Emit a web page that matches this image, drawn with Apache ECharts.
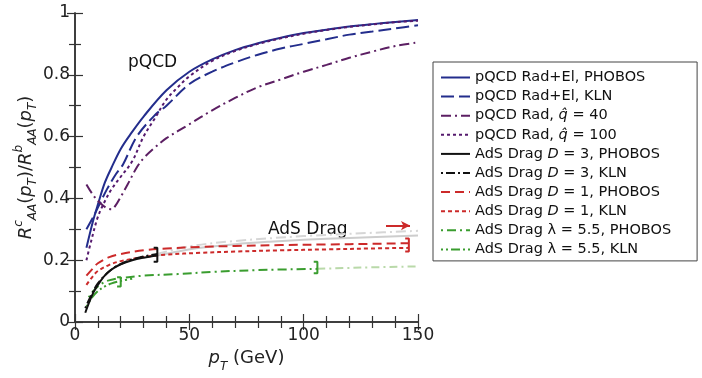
<!DOCTYPE html>
<html>
<head>
<meta charset="UTF-8">
<title>RcAA / RbAA</title>
<script src="https://cdn.jsdelivr.net/npm/echarts@6.0.0/dist/echarts.min.js"></script>
<style>
html, body { margin:0; padding:0; background:#fff; }
#main { width:702px; height:378px; }
</style>
</head>
<body>
<div id="main"></div>
<script>
// pQCD curves
var radElPhobosX = [5, 8, 10, 13, 16, 20, 24, 30, 40, 50, 60, 70, 80, 90, 100, 110, 120, 130, 140, 150];
var radElPhobosY = [0.24, 0.33, 0.38, 0.45, 0.50, 0.56, 0.605, 0.665, 0.75, 0.81, 0.85, 0.88, 0.902, 0.92, 0.935, 0.946, 0.956, 0.964, 0.971, 0.977];
var radElKlnX = [5, 8, 10, 14, 18, 21, 27, 35, 40, 50, 60, 70, 80, 90, 100, 110, 120, 130, 140, 150];
var radElKlnY = [0.30, 0.34, 0.37, 0.43, 0.48, 0.51, 0.60, 0.67, 0.70, 0.77, 0.81, 0.84, 0.865, 0.885, 0.90, 0.915, 0.93, 0.94, 0.95, 0.96];
var rad40X = [5, 8, 11, 14, 16, 18, 20, 23, 27, 30, 35, 40, 50, 60, 70, 80, 90, 100, 110, 120, 130, 140, 150];
var rad40Y = [0.445, 0.41, 0.385, 0.368, 0.365, 0.38, 0.405, 0.445, 0.50, 0.53, 0.565, 0.595, 0.64, 0.685, 0.725, 0.76, 0.785, 0.81, 0.832, 0.855, 0.875, 0.893, 0.905];
var rad100X = [5, 7, 10, 13, 16, 20, 25, 30, 35, 40, 45, 50, 60, 70, 80, 90, 100, 110, 120, 130, 140, 150];
var rad100Y = [0.20, 0.26, 0.34, 0.39, 0.43, 0.47, 0.52, 0.60, 0.66, 0.72, 0.76, 0.795, 0.845, 0.877, 0.90, 0.918, 0.933, 0.945, 0.955, 0.963, 0.97, 0.975];

// AdS drag curves
var d3PhobosX = [4.5, 6, 8, 10, 13, 16, 20, 25, 30, 36];
var d3PhobosY = [0.03, 0.06, 0.095, 0.12, 0.15, 0.17, 0.187, 0.20, 0.208, 0.215];
var d3PhobosOutX = [36, 45, 55, 70, 85, 100, 120, 150];
var d3PhobosOutY = [0.215, 0.228, 0.24, 0.252, 0.26, 0.266, 0.272, 0.28];
var d3KlnX = [4.5, 6, 8, 10, 14, 18, 24, 30, 36];
var d3KlnY = [0.045, 0.07, 0.10, 0.125, 0.158, 0.18, 0.20, 0.212, 0.22];
var d3KlnOutX = [36, 50, 70, 100, 125, 150];
var d3KlnOutY = [0.22, 0.245, 0.262, 0.278, 0.287, 0.295];
var d1PhobosX = [5, 8, 10, 15, 20, 30, 40, 55, 70, 90, 110, 130, 146];
var d1PhobosY = [0.15, 0.175, 0.19, 0.21, 0.22, 0.232, 0.238, 0.243, 0.246, 0.249, 0.251, 0.253, 0.255];
var d1KlnX = [5, 8, 10, 15, 20, 30, 40, 55, 70, 90, 110, 130, 146];
var d1KlnY = [0.12, 0.15, 0.165, 0.185, 0.197, 0.21, 0.218, 0.224, 0.228, 0.232, 0.235, 0.238, 0.24];
var lamPhobosX = [6, 8, 10, 13, 16, 20, 30, 45, 60, 80, 106];
var lamPhobosY = [0.08, 0.10, 0.115, 0.13, 0.137, 0.142, 0.15, 0.155, 0.162, 0.168, 0.172];
var lamPhobosOutX = [106, 125, 150];
var lamPhobosOutY = [0.172, 0.176, 0.18];
var lamKlnX = [5, 7, 10, 13, 16, 20, 25];
var lamKlnY = [0.05, 0.075, 0.10, 0.115, 0.125, 0.133, 0.14];

// range brackets: [x, yLow, yHigh]
var bracketD3 = [36, 0.195, 0.24];
var bracketD1 = [146, 0.228, 0.27];
var bracketLam = [106, 0.158, 0.195];
var bracketLamKln = [20, 0.115, 0.145];
var arrowD1 = [[136, 0.312], [146.5, 0.312]];

var legendNames = [
	'pQCD Rad+El, PHOBOS',
	'pQCD Rad+El, KLN',
	'pQCD Rad, q40',
	'pQCD Rad, q100',
	'AdS Drag D3, PHOBOS',
	'AdS Drag D3, KLN',
	'AdS Drag D1, PHOBOS',
	'AdS Drag D1, KLN',
	'AdS Drag l, PHOBOS',
	'AdS Drag l, KLN'
];
var legendText = {
	'pQCD Rad+El, PHOBOS': 'pQCD Rad+El, PHOBOS',
	'pQCD Rad+El, KLN': 'pQCD Rad+El, KLN',
	'pQCD Rad, q40': 'pQCD Rad, {i|q\u0302} = 40',
	'pQCD Rad, q100': 'pQCD Rad, {i|q\u0302} = 100',
	'AdS Drag D3, PHOBOS': 'AdS Drag {i|D} = 3, PHOBOS',
	'AdS Drag D3, KLN': 'AdS Drag {i|D} = 3, KLN',
	'AdS Drag D1, PHOBOS': 'AdS Drag {i|D} = 1, PHOBOS',
	'AdS Drag D1, KLN': 'AdS Drag {i|D} = 1, KLN',
	'AdS Drag l, PHOBOS': 'AdS Drag \u03bb = 5.5, PHOBOS',
	'AdS Drag l, KLN': 'AdS Drag \u03bb = 5.5, KLN'
};

var FONT = 'DejaVu Sans';
var navy = '#232d8c', purple = '#5c1f63', purple2 = '#551a6e';
var red = '#cc2a2a', green = '#3a9d2f', grey = '#cdcdcd', lightGreen = '#b9d9a9';

function pairs(xs, ys){
	var out = [];
	for(var i=0;i<xs.length;i++){ out.push([xs[i], ys[i]]); }
	return out;
}
function curve(name, xs, ys, color, dash, z){
	return {
		name: name, type: 'line', data: pairs(xs, ys),
		smooth: 0.35, symbol: 'none', showSymbol: false,
		lineStyle: { color: color, width: 2, type: dash },
		itemStyle: { color: color },
		z: z || 2
	};
}
function bracket(b, color){
	var w = 1.6;
	return {
		type: 'line', symbol: 'none', silent: true,
		data: [[b[0]-w, b[1]], [b[0], b[1]], [b[0], b[2]], [b[0]-w, b[2]]],
		lineStyle: { color: color, width: 2 }, z: 5
	};
}

var chart = echarts.init(document.getElementById('main'));

var tickFmt = function(v){
	if(v === 0) return '0';
	if(v === 1) return '1';
	return v.toFixed(1);
};
var axisCommon = {
	axisLine: { lineStyle: { color: '#333', width: 1.5 } },
	axisTick: { inside: true, length: 8, lineStyle: { color: '#333', width: 1.2 } },
	minorTick: { show: true, length: 6, lineStyle: { color: '#333', width: 1.2 } },
	splitLine: { show: false }
};

var option = {
	animation: false,
	backgroundColor: '#fff',
	textStyle: { fontFamily: FONT },
	grid: { left: 75, right: 284, top: 13, bottom: 45 },
	xAxis: [
		echarts.util.merge({
			type: 'value', min: 0, max: 150, interval: 50, position: 'bottom',
			minorTick: { splitNumber: 5 },
			axisLabel: { color: '#222', fontSize: 17, fontFamily: FONT, margin: 5 },
			name: '{ip|p}{sub|T}{n| (GeV)}', nameLocation: 'middle', nameGap: 27,
			nameTextStyle: {
				rich: {
					ip: { fontFamily: FONT, fontSize: 18, fontStyle: 'italic', color: '#222', lineHeight: 24, verticalAlign: 'top' },
					sub: { fontFamily: FONT, fontSize: 12, fontStyle: 'italic', color: '#222', lineHeight: 12, verticalAlign: 'bottom' },
					n: { fontFamily: FONT, fontSize: 18, color: '#222', lineHeight: 24, verticalAlign: 'top' }
				}
			}
		}, axisCommon),
		echarts.util.merge({
			type: 'value', min: 0, max: 150, interval: 50, position: 'top',
			minorTick: { splitNumber: 5 },
			axisLabel: { show: false }
		}, axisCommon)
	],
	yAxis: [
		echarts.util.merge({
			type: 'value', min: 0, max: 1, interval: 0.2, position: 'left',
			minorTick: { splitNumber: 2 },
			axisLabel: { color: '#222', fontSize: 17, fontFamily: FONT, margin: 5, formatter: tickFmt },
			name: '{r|R}{sup|c}{sub|AA}{n|(}{ip|p}{sub|T}{n|)/}{r|R}{sup|b}{sub|AA}{n|(}{ip|p}{sub|T}{n|)}',
			nameLocation: 'middle', nameRotate: 90, nameGap: 22,
			nameTextStyle: {
				rich: {
					r: { fontFamily: FONT, fontSize: 18, fontStyle: 'italic', color: '#222', lineHeight: 26 },
					ip: { fontFamily: FONT, fontSize: 18, fontStyle: 'italic', color: '#222', lineHeight: 26 },
					n: { fontFamily: FONT, fontSize: 18, color: '#222', lineHeight: 26 },
					sup: { fontFamily: FONT, fontSize: 12, fontStyle: 'italic', color: '#222', lineHeight: 12, verticalAlign: 'top' },
					sub: { fontFamily: FONT, fontSize: 12, fontStyle: 'italic', color: '#222', lineHeight: 12, verticalAlign: 'bottom' }
				}
			}
		}, axisCommon),
		echarts.util.merge({
			type: 'value', min: 0, max: 1, interval: 0.2, position: 'right',
			minorTick: { splitNumber: 2 },
			axisLabel: { show: false }
		}, axisCommon)
	],
	legend: {
		data: legendNames,
		orient: 'vertical',
		left: 433, top: 62,
		padding: [7, 26, 3, 7],
		itemWidth: 29, itemHeight: 14, itemGap: 2.1,
		borderColor: '#444', borderWidth: 1,
		selectedMode: false,
		itemStyle: { color: 'rgba(0,0,0,0)', borderColor: 'rgba(0,0,0,0)', borderWidth: 0, opacity: 0 },
		formatter: function(name){ return legendText[name]; },
		textStyle: {
			fontFamily: FONT, fontSize: 14.5, color: '#111', lineHeight: 17,
			rich: { i: { fontFamily: FONT, fontSize: 14.5, fontStyle: 'italic', color: '#111', lineHeight: 17 } }
		}
	},
	graphic: [
		{ type: 'text', left: 128, top: 54, style: { text: 'pQCD', fontFamily: FONT, fontSize: 17, fill: '#111' } },
		{ type: 'text', left: 268, top: 221, style: { text: 'AdS Drag', fontFamily: FONT, fontSize: 17, fill: '#111' } }
	],
	series: [
		// grey / light continuations beyond the valid range
		curve(null, d3PhobosOutX, d3PhobosOutY, grey, 'solid', 1),
		curve(null, d3KlnOutX, d3KlnOutY, '#d6d6d6', [10, 4, 2, 4], 1),
		curve(null, lamPhobosOutX, lamPhobosOutY, lightGreen, [8, 4, 2, 4], 1),

		curve(legendNames[0], radElPhobosX, radElPhobosY, navy, 'solid', 3),
		curve(legendNames[1], radElKlnX, radElKlnY, navy, [13, 5], 3),
		curve(legendNames[2], rad40X, rad40Y, purple, [10, 4, 2, 4], 3),
		curve(legendNames[3], rad100X, rad100Y, purple2, [3, 3], 3),
		curve(legendNames[4], d3PhobosX, d3PhobosY, '#111', 'solid', 4),
		curve(legendNames[5], d3KlnX, d3KlnY, '#111', [2, 3, 9, 3], 4),
		curve(legendNames[6], d1PhobosX, d1PhobosY, red, [9, 5], 3),
		curve(legendNames[7], d1KlnX, d1KlnY, red, [4, 3], 3),
		curve(legendNames[8], lamPhobosX, lamPhobosY, green, [2, 4, 9, 4], 3),
		curve(legendNames[9], lamKlnX, lamKlnY, green, [2, 3, 2, 3, 9, 3], 3),

		bracket(bracketD3, '#111'),
		bracket(bracketD1, red),
		bracket(bracketLam, green),
		bracket(bracketLamKln, green),
		{
			type: 'line', symbol: 'none', silent: true, data: [],
			markLine: {
				silent: true, symbol: ['none', 'arrow'], symbolSize: [7, 9],
				label: { show: false },
				lineStyle: { color: red, width: 2, type: 'solid' },
				data: [[{ coord: arrowD1[0] }, { coord: arrowD1[1] }]]
			}
		}
	]
};
chart.setOption(option);
</script>
</body>
</html>
